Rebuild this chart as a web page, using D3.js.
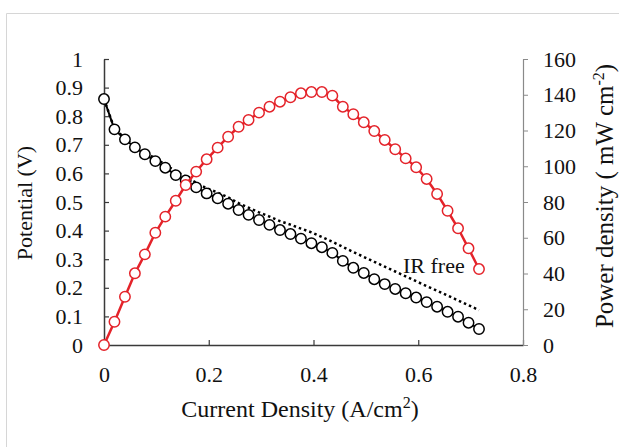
<!DOCTYPE html>
<html>
<head>
<meta charset="utf-8">
<script src="https://cdn.jsdelivr.net/npm/d3@7"></script>
<style>
    body { margin: 0; background: #fff; }
    svg { display: block; font-family: "Liberation Serif", "Times New Roman", serif; }
</style>
</head>
<body>
<svg id="chart" width="619" height="447"></svg>
<script>
    // Data
    const current = [0, 0.02, 0.04, 0.059, 0.078, 0.098, 0.117, 0.137, 0.156, 0.176,
        0.196, 0.217, 0.237, 0.257, 0.276, 0.296, 0.316, 0.336, 0.356, 0.376,
        0.396, 0.416, 0.436, 0.456, 0.476, 0.496, 0.516, 0.536, 0.556, 0.576,
        0.596, 0.616, 0.636, 0.656, 0.676, 0.696, 0.716];
    const potential = [0.86, 0.754, 0.719, 0.691, 0.667, 0.643, 0.620, 0.594, 0.575, 0.551,
        0.530, 0.513, 0.494, 0.472, 0.455, 0.437, 0.420, 0.402, 0.388, 0.372,
        0.356, 0.342, 0.322, 0.294, 0.270, 0.252, 0.230, 0.213, 0.196, 0.181,
        0.166, 0.150, 0.134, 0.116, 0.099, 0.078, 0.056];
    const irFree = [0.86, 0.756, 0.723, 0.696, 0.674, 0.652, 0.631, 0.607, 0.589, 0.567,
        0.548, 0.533, 0.516, 0.496, 0.480, 0.464, 0.449, 0.433, 0.421, 0.407,
        0.394, 0.378, 0.361, 0.343, 0.325, 0.308, 0.291, 0.274, 0.257, 0.240,
        0.223, 0.206, 0.190, 0.173, 0.156, 0.139, 0.122];
    const power = [0, 13.0, 27.0, 40.1, 50.7, 62.8, 71.8, 80.7, 89.5, 97.0,
        103.9, 110.4, 116.5, 122.1, 125.9, 130.0, 133.3, 136.1, 138.6, 140.8,
        141.5, 141.5, 139.5, 133.3, 129.1, 124.6, 119.7, 114.7, 109.5, 104.4,
        99.4, 92.9, 84.5, 75.1, 65.3, 54.1, 42.5];

    const xTicks = [0, 0.2, 0.4, 0.6, 0.8];
    const yLeftTicks = [0, 0.1, 0.2, 0.3, 0.4, 0.5, 0.6, 0.7, 0.8, 0.9, 1];
    const yRightTicks = [0, 20, 40, 60, 80, 100, 120, 140, 160];

    // Constants
    const RED = '#e4232a';
    const AXIS_COLOR = '#3a3a3a';
    const RADIUS = 5.2;
    const TICK_FONT = 22;

    const svg = d3.select('#chart');

    // Frame lines (partial border of the original picture)
    svg.append('path')
        .attr('d', 'M6.5,447 V13.5 H619')
        .attr('fill', 'none')
        .attr('stroke', '#d6d6d6')
        .attr('stroke-width', 1);

    // Scales
    const x = d3.scaleLinear().domain([0, 0.8]).range([104, 523]);
    const yL = d3.scaleLinear().domain([0, 1]).range([345, 59]);
    const yR = d3.scaleLinear().domain([0, 160]).range([345, 59]);

    // Axes
    const gLeft = svg.append('g')
        .attr('transform', 'translate(104,0)')
        .call(d3.axisLeft(yL).tickValues(yLeftTicks).tickFormat((d) => String(d))
            .tickSizeInner(-5).tickSizeOuter(0).tickPadding(21));

    const gBottom = svg.append('g')
        .attr('transform', 'translate(0,345)')
        .call(d3.axisBottom(x).tickValues(xTicks).tickFormat((d) => String(d))
            .tickSizeInner(-5).tickSizeOuter(0).tickPadding(21));

    const gRight = svg.append('g')
        .attr('transform', 'translate(523,0)')
        .call(d3.axisRight(yR).tickValues(yRightTicks).tickFormat((d) => String(d))
            .tickSizeInner(5).tickSizeOuter(0).tickPadding(15));

    [gLeft, gBottom].forEach((g) => {
        g.select('.domain').attr('stroke', AXIS_COLOR).attr('stroke-width', 1.5);
        g.selectAll('.tick line').attr('stroke', AXIS_COLOR).attr('stroke-width', 1.2);
    });
    gRight.select('.domain').attr('stroke', '#8a8a8a').attr('stroke-width', 1.2);
    gRight.selectAll('.tick line').attr('stroke', '#8a8a8a').attr('stroke-width', 1);

    [gLeft, gBottom, gRight].forEach((g) => {
        g.attr('font-family', null).attr('font-size', null);
        g.selectAll('.tick text')
            .attr('font-size', TICK_FONT)
            .attr('fill', '#111');
    });

    // Axis titles
    svg.append('text')
        .attr('transform', 'translate(32,203) rotate(-90)')
        .attr('text-anchor', 'middle')
        .attr('font-size', 22)
        .attr('fill', '#111')
        .text('Potential (V)');

    const xTitle = svg.append('text')
        .attr('x', 300)
        .attr('y', 417)
        .attr('text-anchor', 'middle')
        .attr('font-size', 24)
        .attr('fill', '#111');
    xTitle.append('tspan').text('Current Density (A/cm');
    xTitle.append('tspan').attr('font-size', 16).attr('dy', -9).text('2');
    xTitle.append('tspan').attr('dy', 9).text(')');

    const yRTitle = svg.append('text')
        .attr('transform', 'translate(613,196) rotate(-90)')
        .attr('text-anchor', 'middle')
        .attr('font-size', 25)
        .attr('fill', '#111');
    yRTitle.append('tspan').text('Power density ( mW cm');
    yRTitle.append('tspan').attr('font-size', 16).attr('dy', -9).text('-2');
    yRTitle.append('tspan').attr('dy', 9).text(')');

    // IR free dotted line
    const rows = current.map((c, i) => ({ c, v: potential[i], ir: irFree[i], p: power[i] }));

    svg.append('path')
        .datum(rows)
        .attr('fill', 'none')
        .attr('stroke', '#000')
        .attr('stroke-width', 2.5)
        .attr('stroke-dasharray', '2.5,3')
        .attr('d', d3.line().x((d) => x(d.c)).y((d) => yL(d.ir)));

    svg.append('text')
        .attr('x', 403)
        .attr('y', 273)
        .attr('font-size', 22)
        .attr('fill', '#111')
        .text('IR free');

    // Potential series
    svg.append('path')
        .datum(rows)
        .attr('fill', 'none')
        .attr('stroke', '#000')
        .attr('stroke-width', 2)
        .attr('d', d3.line().x((d) => x(d.c)).y((d) => yL(d.v)));

    svg.append('g')
        .selectAll('circle')
        .data(rows)
        .enter().append('circle')
        .attr('cx', (d) => x(d.c))
        .attr('cy', (d) => yL(d.v))
        .attr('r', RADIUS)
        .attr('fill', '#fff')
        .attr('stroke', '#000')
        .attr('stroke-width', 1.5);

    // Power series
    svg.append('path')
        .datum(rows)
        .attr('fill', 'none')
        .attr('stroke', RED)
        .attr('stroke-width', 2.5)
        .attr('d', d3.line().x((d) => x(d.c)).y((d) => yR(d.p)));

    svg.append('g')
        .selectAll('circle')
        .data(rows)
        .enter().append('circle')
        .attr('cx', (d) => x(d.c))
        .attr('cy', (d) => yR(d.p))
        .attr('r', RADIUS)
        .attr('fill', '#fff')
        .attr('stroke', RED)
        .attr('stroke-width', 1.5);
</script>
</body>
</html>
